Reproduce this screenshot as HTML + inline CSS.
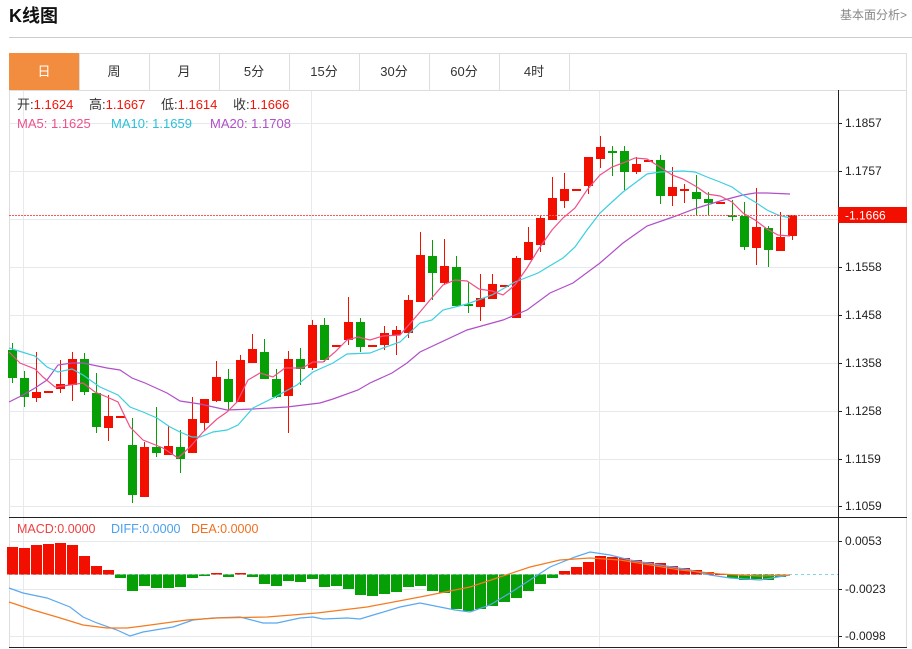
<!DOCTYPE html>
<html><head><meta charset="utf-8"><style>
body{margin:0;width:912px;height:649px;background:#fff;overflow:hidden;font-family:"Liberation Sans","Noto Sans CJK SC",sans-serif;}
</style></head><body>
<svg id="s" width="912" height="649" xmlns="http://www.w3.org/2000/svg" style="position:absolute;left:0;top:0;font-family:'Liberation Sans','Noto Sans CJK SC',sans-serif">
<text x="9" y="22" font-size="18" font-weight="bold" fill="#111">K线图</text>
<text x="907" y="19" font-size="12" fill="#888" text-anchor="end">基本面分析&gt;</text>
<line x1="9" y1="37.5" x2="912" y2="37.5" stroke="#ccc"/>
<rect x="9.5" y="53.5" width="897" height="594" fill="none" stroke="#ddd"/>
<line x1="9" y1="90.5" x2="907" y2="90.5" stroke="#ddd"/>
<rect x="9" y="53" width="70" height="37" fill="#f28d3f"/>
<g stroke="#ddd"><line x1="79.5" y1="53" x2="79.5" y2="90"/><line x1="149.5" y1="53" x2="149.5" y2="90"/><line x1="219.5" y1="53" x2="219.5" y2="90"/><line x1="289.5" y1="53" x2="289.5" y2="90"/><line x1="359.5" y1="53" x2="359.5" y2="90"/><line x1="429.5" y1="53" x2="429.5" y2="90"/><line x1="499.5" y1="53" x2="499.5" y2="90"/><line x1="569.5" y1="53" x2="569.5" y2="90"/></g>
<g font-size="13" text-anchor="middle" fill="#333"><text x="44" y="76" fill="#fff">日</text><text x="114" y="76">周</text><text x="184" y="76">月</text><text x="254" y="76">5分</text><text x="324" y="76">15分</text><text x="394" y="76">30分</text><text x="464" y="76">60分</text><text x="534" y="76">4时</text></g>
<g id="grid" stroke="#e4eaee"></g>
<g id="c"></g>
<line x1="838.5" y1="90" x2="838.5" y2="648" stroke="#222"/>
<line x1="9" y1="517.5" x2="907" y2="517.5" stroke="#222"/>
<line x1="9" y1="647.5" x2="907" y2="647.5" stroke="#222"/>
<line x1="9" y1="215.5" x2="838" y2="215.5" stroke="#f55" stroke-dasharray="2,1"/>
<rect x="838" y="207" width="69" height="16" fill="#f20f00"/>
<text x="845" y="219.5" font-size="12" fill="#fff">-1.1666</text>
<g font-size="13">
<text y="109" fill="#333"><tspan x="17">开:</tspan><tspan fill="#f0140a">1.1624</tspan><tspan x="89">高:</tspan><tspan fill="#f0140a">1.1667</tspan><tspan x="161">低:</tspan><tspan fill="#f0140a">1.1614</tspan><tspan x="233">收:</tspan><tspan fill="#f0140a">1.1666</tspan></text>
<text y="128" fill="#f0508a"><tspan x="17">MA5: 1.1625</tspan><tspan x="111" fill="#2bc0d8">MA10: 1.1659</tspan><tspan x="210" fill="#b04fc8">MA20: 1.1708</tspan></text>
<text y="533" font-size="12.5" fill="#f04040"><tspan x="17">MACD:0.0000</tspan><tspan x="111" fill="#4aa0f0">DIFF:0.0000</tspan><tspan x="191" fill="#f07020">DEA:0.0000</tspan></text></g>
<g id="ax" font-size="12" fill="#222"></g>
</svg>
<script>
var S=document.getElementById('c'),G=document.getElementById('grid'),A=document.getElementById('ax'),NS='http://www.w3.org/2000/svg';
function el(p,t,a){var e=document.createElementNS(NS,t);for(var k in a)e.setAttribute(k,a[k]);p.appendChild(e);return e;}
var pl=[[1.1857,123],[1.1757,171],[1.1658,219],[1.1558,267],[1.1458,315],[1.1358,363],[1.1258,411],[1.1159,459],[1.1059,506],[0.0053,541],[-0.0023,589],[-0.0098,636]];
pl.forEach(function(p){el(G,'line',{x1:9,x2:838,y1:p[1]+.5,y2:p[1]+.5});if(p[1]==219)return;el(A,'line',{x1:838,x2:842,y1:p[1]+.5,y2:p[1]+.5,stroke:'#222'});var t=el(A,'text',{x:845,y:p[1]+4});t.textContent=(p[0]<0?'-'+(-p[0]).toFixed(4):p[0].toFixed(4));});
[23,311,599].forEach(function(x){el(G,'line',{x1:x+.5,x2:x+.5,y1:91,y2:647});});
var cd=[['g',350,378,343,383],['g',378,397,371,407],['r',392,398,352,402],['r',391,393,391,393],['r',384,389,360,393],['r',359,385,352,401],['g',359,392,353,395],['g',393,427,373,433],['r',416,428,395,441],['r',416,418,416,418],['g',445,495,418,503],['r',447,497,442,497],['g',447,453,407,457],['r',446,455,426,455],['g',447,459,430,473],['r',419,453,397,453],['r',399,423,399,430],['r',377,401,361,402],['g',379,402,369,410],['r',360,402,355,402],['r',349,363,334,363],['g',352,379,339,379],['g',379,397,369,398],['r',359,396,351,433],['g',359,369,348,385],['r',325,368,320,370],['g',325,360,318,362],['r',345,347,345,347],['r',322,340,297,345],['g',322,347,318,352],['r',345,347,345,347],['r',333,345,326,350],['r',330,335,326,355],['r',300,333,295,338],['r',255,302,232,302],['g',256,273,240,300],['r',266,283,239,285],['g',267,306,256,306],['g',304,306,282,313],['r',298,307,274,321],['r',284,299,274,299],['r',285,287,285,287],['r',258,318,256,318],['r',242,260,227,260],['r',218,245,215,252],['r',198,220,177,220],['r',189,201,173,208],['r',189,191,189,191],['r',157,186,157,194],['r',147,159,136,168],['g',151,152,146,176],['g',151,172,146,190],['r',164,172,157,174],['r',160,162,160,162],['g',160,196,155,204],['r',187,196,167,206],['r',189,191,184,203],['g',192,199,175,216],['g',199,203,192,215],['r',202,204,202,204],['g',215,217,200,221],['g',216,247,202,250],['r',227,248,188,265],['g',228,250,226,267],['r',237,251,212,251],['r',215,236,215,240]];
cd.forEach(function(c,i){var x=12+i*12,col=c[0]=='r'?'#f20f00':'#06a006';el(S,'line',{x1:x+.5,x2:x+.5,y1:c[3],y2:c[4],stroke:col});el(S,'rect',{x:x-4,y:c[1],width:9,height:Math.max(2,c[2]-c[1]),fill:col});});
var mb=[547,548,545,544,543,545,556,566,570,578,591,586,588,588,587,578,576,573,577,573,577,584,586,581,582,579,587,586,589,595,596,594,592,587,586,591,593,609,611,609,606,602,598,591,584,578,571,567,562,556,557,558,560,562,563,566,568,570,572,574,578,580,579,580,577];
var z=574.5;el(S,'line',{x1:9,x2:838,y1:z,y2:z,stroke:'#7fd3e8','stroke-dasharray':'3,3'});
mb.forEach(function(v,i){var x=12+i*12;el(S,'rect',{x:x-5,y:Math.min(v,z),width:11,height:Math.max(1,Math.abs(v-z)),fill:v<z?'#f20f00':'#06a006'});});
function ln(p,c){el(S,'polyline',{points:p,fill:'none',stroke:c,'stroke-width':1.2});}
ln('9,402 23,395 35,388 47,380 58,365 72,363 83,363 107,368 120,370 132,378 145,383 167,393 180,401 200,404 227,410 253,409 287,407 320,403 333,399 358,390 370,383 392,373 407,363 420,352 467,330 503,320 527,310 550,293 573,283 600,263 623,243 647,226 673,217 697,208 720,201 743,195 755,193 767,193 790,194','#b04fc8');
ln('9,348 35,356 47,367 58,372 72,369 83,375 100,387 118,395 130,407 143,412 157,418 170,427 180,432 192,437 200,437 213,432 227,430 238,425 253,408 273,398 297,385 313,372 333,363 347,354 370,353 383,348 400,342 420,323 432,320 443,310 467,304 492,295 515,282 538,273 563,258 575,247 587,230 600,213 612,202 623,192 635,183 647,174 660,172 683,171 695,172 707,177 720,182 732,187 743,195 755,202 767,210 778,215 790,218','#3ccfe0');
ln('9,352 20,363 35,369 43,377 55,387 70,385 83,383 95,392 107,397 118,402 130,427 143,440 163,448 178,458 190,447 203,432 217,419 227,412 237,402 248,380 260,373 273,377 285,368 302,368 313,362 323,362 335,352 347,340 358,337 370,340 383,336 400,335 420,312 430,300 443,285 455,280 467,281 479,289 492,291 503,295 515,285 527,268 538,250 552,230 563,218 575,208 587,190 600,175 612,167 623,163 635,158 647,159 660,167 672,175 683,179 697,187 707,194 720,196 732,202 743,213 755,220 767,229 778,235 790,236','#f0508a');
ln('9,588 23,593 47,598 70,607 83,617 97,623 117,630 130,636 143,632 173,627 193,620 213,618 240,617 263,623 277,623 300,618 313,617 323,619 347,618 360,619 380,613 400,607 420,603 455,610 470,612 490,605 510,593 530,580 550,567 575,557 590,552 610,555 630,560 660,565 690,570 710,575 730,578 760,580 790,575','#5aa9f0');
ln('9,602 33,610 57,617 83,625 107,628 127,628 143,626 187,620 217,618 267,617 317,613 367,607 420,597 470,587 500,577 530,567 560,560 590,558 620,560 650,565 680,570 720,574 760,576 790,575','#f57a20');
</script>
</body></html>
